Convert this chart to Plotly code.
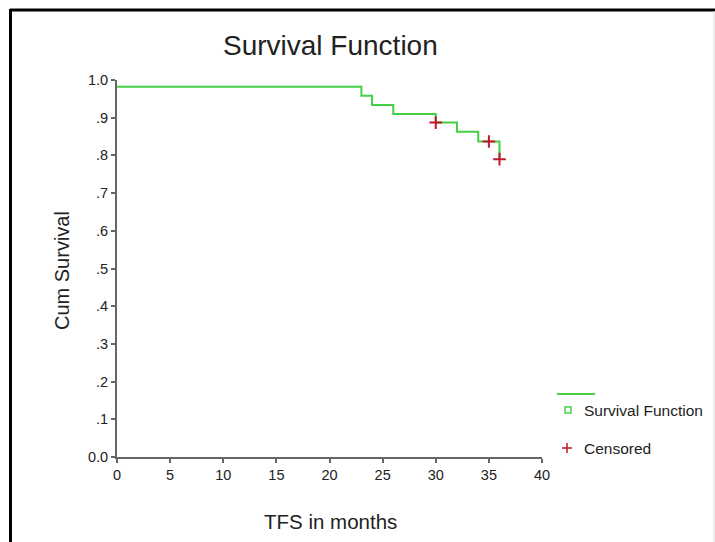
import plotly.graph_objects as go

# Data
step_time = [0, 23, 24, 26, 30, 32, 34, 36]
step_surv = [0.982, 0.958, 0.934, 0.910, 0.887, 0.863, 0.837, 0.790]
cens_time = [30, 35, 36]
cens_surv = [0.887, 0.837, 0.790]
x_ticks = [0, 5, 10, 15, 20, 25, 30, 35, 40]
y_ticks = [0.0, 0.1, 0.2, 0.3, 0.4, 0.5, 0.6, 0.7, 0.8, 0.9, 1.0]
y_tick_text = ["0.0", ".1", ".2", ".3", ".4", ".5", ".6", ".7", ".8", ".9", "1.0"]

W, H = 715, 542
L, R, T, B = 117, 542, 80, 457


def px(x):
    return (x - L) / (R - L)


def py(y):
    return (B - y) / (B - T)


GREEN = "#44d044"
RED = "#c0182a"
FONT = "Liberation Sans, Arial, sans-serif"

fig = go.Figure()
fig.add_trace(go.Scatter(x=step_time, y=step_surv, mode="lines",
                         line=dict(color=GREEN, width=2, shape="hv"),
                         showlegend=False, hoverinfo="skip"))
fig.add_trace(go.Scatter(x=cens_time, y=cens_surv, mode="markers",
                         marker=dict(symbol="cross-thin", size=9,
                                     line=dict(color=RED, width=2)),
                         showlegend=False, hoverinfo="skip"))

shapes = [
    # frame
    dict(type="line", xref="paper", yref="paper", x0=px(10), x1=px(715), y0=py(10), y1=py(10),
         line=dict(color="black", width=3)),
    dict(type="line", xref="paper", yref="paper", x0=px(10.5), x1=px(10.5), y0=py(9), y1=py(542),
         line=dict(color="black", width=3)),
    dict(type="line", xref="paper", yref="paper", x0=px(714), x1=px(714), y0=py(11), y1=py(542),
         line=dict(color="#dddddd", width=1)),
    # legend
    dict(type="line", xref="paper", yref="paper", x0=px(557), x1=px(595), y0=py(394), y1=py(394),
         line=dict(color=GREEN, width=2)),
    dict(type="rect", xref="paper", yref="paper", x0=px(565), x1=px(571), y0=py(407), y1=py(413),
         line=dict(color=GREEN, width=1.5)),
    dict(type="line", xref="paper", yref="paper", x0=px(562), x1=px(572), y0=py(448), y1=py(448),
         line=dict(color=RED, width=1.5)),
    dict(type="line", xref="paper", yref="paper", x0=px(567), x1=px(567), y0=py(443), y1=py(453),
         line=dict(color=RED, width=1.5)),
]

annotations = [
    dict(text="Survival Function", xref="paper", yref="paper", x=px(582), y=py(410),
         xanchor="left", yanchor="middle", showarrow=False,
         font=dict(family=FONT, size=15.5, color="#222")),
    dict(text="Censored", xref="paper", yref="paper", x=px(582), y=py(448),
         xanchor="left", yanchor="middle", showarrow=False,
         font=dict(family=FONT, size=15.5, color="#222")),
    dict(text="Survival Function", xref="paper", yref="paper", x=px(330), y=py(46),
         xanchor="center", yanchor="middle", showarrow=False,
         font=dict(family=FONT, size=28, color="#222")),
    dict(text="TFS in months", xref="paper", yref="paper", x=px(330), y=py(521),
         xanchor="center", yanchor="middle", showarrow=False,
         font=dict(family=FONT, size=20.5, color="#222")),
    dict(text="Cum Survival", xref="paper", yref="paper", x=px(62), y=py(270),
         xanchor="center", yanchor="middle", showarrow=False, textangle=-90,
         font=dict(family=FONT, size=20, color="#222")),
]

fig.update_layout(
    width=W, height=H,
    margin=dict(l=L, r=W - R, t=T, b=H - B, pad=0),
    paper_bgcolor="white", plot_bgcolor="white",
    shapes=shapes, annotations=annotations,
    showlegend=False,
    xaxis=dict(range=[0, 40], tickvals=x_ticks, showgrid=False, zeroline=False,
               showline=True, linecolor="#666", linewidth=2, ticks="outside",
               ticklen=4, tickwidth=1.5, tickcolor="#666",
               tickfont=dict(family=FONT, size=14.5, color="#222")),
    yaxis=dict(range=[0, 1], tickvals=y_ticks, ticktext=y_tick_text, showgrid=False,
               zeroline=False, showline=True, linecolor="#666", linewidth=2,
               ticks="outside", ticklen=4, tickwidth=1.5, tickcolor="#666",
               tickfont=dict(family=FONT, size=14.5, color="#222")),
)

fig.write_html("out.html")
